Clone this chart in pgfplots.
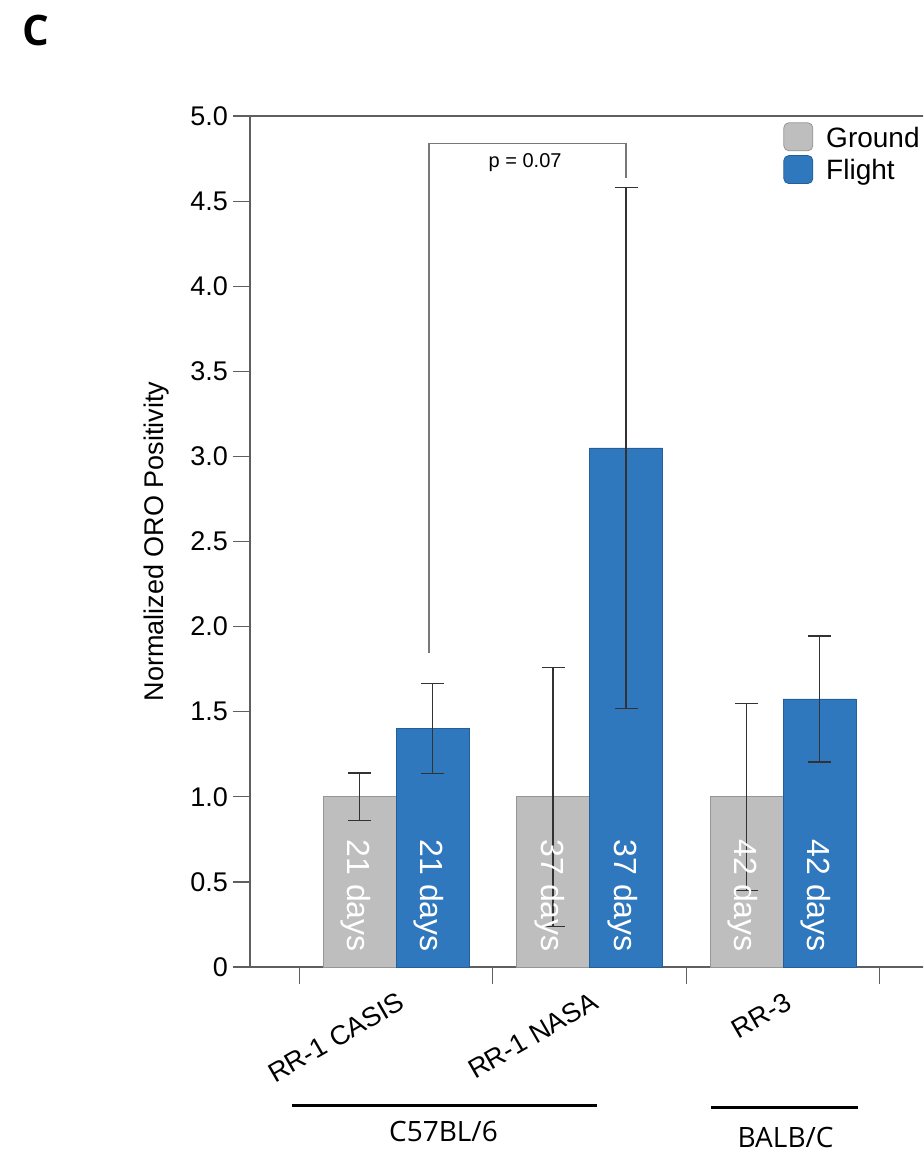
\documentclass[border=0pt]{standalone}
\usepackage{fontspec}
\setmainfont{Liberation Sans}
\newfontfamily\opensans{Open Sans}
\usepackage{pgfplots}
\usepackage{pgfplotstable}
\pgfplotsset{compat=1.18}
\definecolor{groundgray}{RGB}{190,190,190}
\definecolor{grounddraw}{RGB}{150,150,150}
\definecolor{flightblue}{RGB}{47,120,190}
\definecolor{flightdraw}{RGB}{35,95,155}
\definecolor{axgray}{RGB}{95,95,95}
\definecolor{errc}{RGB}{50,50,50}
\definecolor{brk}{RGB}{120,120,120}

\pgfplotstableread{
x y e
0 1.00 0.14
1 1.00 0.76
2 1.00 0.55
}\ground
\pgfplotstableread{
x y e
0 1.40 0.265
1 3.05 1.53
2 1.575 0.37
}\flight

\begin{document}
\begin{tikzpicture}
\useasboundingbox (0pt,0pt) rectangle (461.5pt,-576pt);
\clip (0pt,0pt) rectangle (461.5pt,-576pt);
\node[font=\opensans\bfseries\fontsize{21}{24}\selectfont] at (18pt,-15pt) {C};
\begin{axis}[
  at={(125pt,-483.5pt)}, anchor=south west,
  scale only axis, width=339.5pt, height=425.5pt,
  xmin=-0.7545, xmax=2.754, ymin=0, ymax=5,
  clip=false,
  axis line style={axgray, line width=0.6pt},
  tick style={axgray, line width=0.6pt},
  tick align=outside,
  major tick length=8.5pt,
  xtick={-0.5,0.5,1.5,2.5}, xticklabels={},
  ytick={0,0.5,1,1.5,2,2.5,3,3.5,4,4.5,5},
  yticklabels={0,0.5,1.0,1.5,2.0,2.5,3.0,3.5,4.0,4.5,5.0},
  xtick pos=left, ytick pos=left,
  /pgf/number format/assume math mode=true,
  tick label style={font=\fontsize{13.5}{16}\selectfont},
  yticklabel style={xshift=1pt},
  ylabel={Normalized ORO Positivity},
  ylabel style={at={(axis description cs:-0.137,0.5)}, anchor=center, font=\fontsize{13.5}{16}\selectfont},
  ybar, bar width=0.377,
  legend image code/.code={\draw[#1, rounded corners=2.5pt] (0pt,-6.15pt) rectangle (14.5pt,7.85pt);},
  legend style={at={(axis description cs:0.785,0.993)}, anchor=north west, draw=none, fill=none,
    inner sep=0pt, row sep=2pt, font=\fontsize{14}{16}\selectfont,
    nodes={inner sep=0pt}, cells={anchor=west},
    /tikz/every odd column/.append style={column sep=6.5pt}},
]
\addplot[fill=groundgray, draw=grounddraw, line width=0.4pt, bar shift=-0.1885,
  error bars/.cd, y dir=both, y explicit,
  error bar style={errc, line width=0.6pt},
  error mark options={rotate=90, mark size=5.75pt, line width=0.6pt, draw=errc}]
  table[x=x, y=y, y error=e] {\ground};
\addlegendentry{Ground}
\addplot[fill=flightblue, draw=flightdraw, line width=0.4pt, bar shift=0.1885,
  error bars/.cd, y dir=both, y explicit,
  error bar style={errc, line width=0.6pt},
  error mark options={rotate=90, mark size=5.75pt, line width=0.6pt, draw=errc}]
  table[x=x, y=y, y error=e] {\flight};
\addlegendentry{Flight}

% bar annotations
\foreach \xx/\lab in {0/21, 1/37, 2/42}{
  \edef\tmp{\noexpand\node[rotate=-90, anchor=base east, text=white, inner sep=0pt,
    font=\noexpand\fontsize{16}{18}\noexpand\selectfont] at (axis cs:\xx-0.1885-0.06,0.088) {\lab\space days};
  \noexpand\node[rotate=-90, anchor=base east, text=white, inner sep=0pt,
    font=\noexpand\fontsize{16}{18}\noexpand\selectfont] at (axis cs:\xx+0.1885-0.06,0.088) {\lab\space days};}
  \tmp
}

% significance bracket
\draw[brk, line width=0.6pt] (axis cs:0.17,1.845) |- (axis cs:1.1885,4.84) -- (axis cs:1.1885,4.636);
\node[font=\fontsize{10}{12}\selectfont] at (axis cs:0.667,4.724) {p = 0.07};

% category labels
\node[rotate=30, anchor=north east, inner sep=0pt, font=\fontsize{13.5}{16}\selectfont] at (axis cs:0.005,-0.141) {RR-1 CASIS};
\node[rotate=30, anchor=north east, inner sep=0pt, font=\fontsize{13.5}{16}\selectfont] at (axis cs:1.005,-0.141) {RR-1 NASA};
\node[rotate=30, anchor=north east, inner sep=0pt, font=\fontsize{13.5}{16}\selectfont] at (axis cs:2.005,-0.141) {RR-3};

% strain groups
\draw[black, line width=1.5pt] (axis cs:-0.537,-0.811) -- (axis cs:1.039,-0.811);
\draw[black, line width=1.5pt] (axis cs:1.628,-0.823) -- (axis cs:2.388,-0.823);
\node[font=\opensans\fontsize{14}{16}\selectfont] at (axis cs:0.245,-0.969) {C57BL/6};
\node[font=\opensans\fontsize{14}{16}\selectfont] at (axis cs:2.013,-0.999) {BALB/C};
\end{axis}
\end{tikzpicture}
\end{document}
